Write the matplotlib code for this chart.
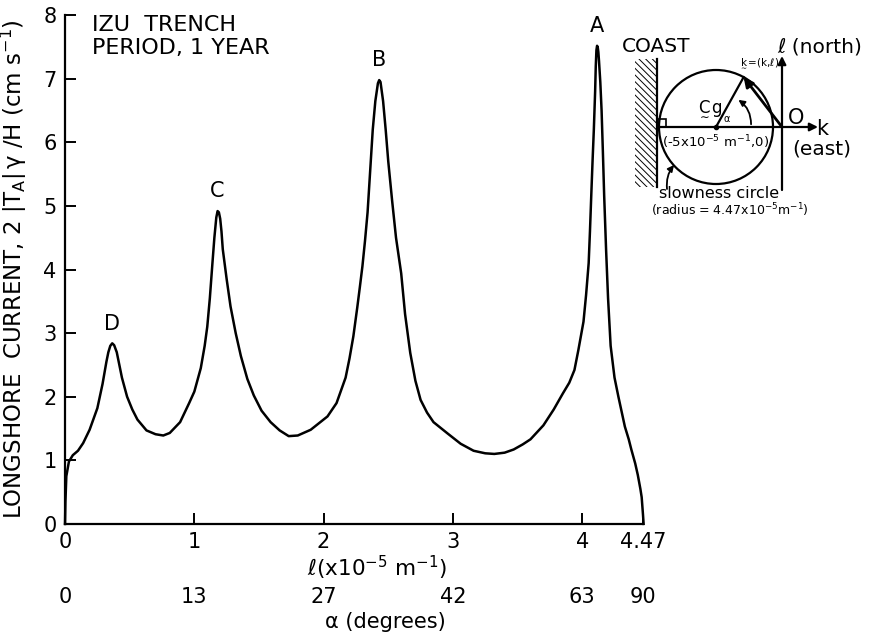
import numpy as np
import matplotlib.pyplot as plt
from matplotlib.patches import Rectangle, Circle, FancyArrowPatch

plt.rcParams['font.family'] = ['DejaVu Sans']
plt.rcParams['mathtext.fontset'] = 'custom'
plt.rcParams['mathtext.rm'] = 'DejaVu Sans'
plt.rcParams['mathtext.it'] = 'DejaVu Sans'
plt.rcParams['hatch.linewidth'] = 0.7

# longshore wavenumber l (x1e-5 m^-1) and current 2|T_A|gamma/H (cm/s)
ell = [0.0, 0.003, 0.01, 0.03, 0.06, 0.10, 0.14, 0.19, 0.25, 0.29, 0.32, 0.335,
       0.35, 0.365, 0.38, 0.40, 0.42, 0.44, 0.48, 0.52, 0.56, 0.63, 0.70, 0.76,
       0.81, 0.89, 0.96, 1.00, 1.05, 1.08, 1.10, 1.12, 1.14, 1.155, 1.17, 1.18,
       1.19, 1.20, 1.21, 1.22, 1.25, 1.28, 1.32, 1.36, 1.41, 1.46, 1.52, 1.59,
       1.66, 1.73, 1.80, 1.90, 2.03, 2.10, 2.17, 2.20, 2.23, 2.26, 2.28, 2.30,
       2.32, 2.34, 2.36, 2.38, 2.40, 2.42, 2.43, 2.44, 2.46, 2.48, 2.50, 2.53,
       2.56, 2.60, 2.63, 2.67, 2.71, 2.75, 2.80, 2.85, 2.96, 3.06, 3.16, 3.25,
       3.32, 3.40, 3.47, 3.54, 3.60, 3.70, 3.78, 3.85, 3.90, 3.94, 3.97, 4.01,
       4.03, 4.05, 4.06, 4.07, 4.08, 4.09, 4.10, 4.105, 4.11, 4.115, 4.12, 4.125,
       4.13, 4.14, 4.15, 4.16, 4.17, 4.185, 4.20, 4.22, 4.25, 4.28, 4.33, 4.36,
       4.38, 4.41, 4.43, 4.45, 4.46, 4.47, 4.475]
current = [0.0, 0.35, 0.75, 0.98, 1.08, 1.15, 1.27, 1.48, 1.82, 2.20, 2.55, 2.70,
           2.80, 2.84, 2.81, 2.70, 2.50, 2.30, 2.00, 1.80, 1.64, 1.47, 1.41, 1.39,
           1.43, 1.60, 1.90, 2.08, 2.45, 2.80, 3.10, 3.55, 4.10, 4.50, 4.82, 4.92,
           4.90, 4.80, 4.60, 4.32, 3.85, 3.42, 3.00, 2.64, 2.28, 2.02, 1.78, 1.60,
           1.47, 1.38, 1.39, 1.48, 1.69, 1.90, 2.30, 2.60, 2.95, 3.40, 3.72, 4.05,
           4.45, 4.90, 5.55, 6.20, 6.65, 6.93, 6.98, 6.95, 6.65, 6.20, 5.70, 5.08,
           4.50, 3.94, 3.30, 2.69, 2.25, 1.95, 1.75, 1.60, 1.42, 1.26, 1.15, 1.11,
           1.10, 1.12, 1.17, 1.25, 1.33, 1.55, 1.80, 2.05, 2.22, 2.42, 2.73, 3.18,
           3.60, 4.10, 4.60, 5.16, 5.70, 6.20, 6.80, 7.20, 7.45, 7.52, 7.50, 7.42,
           7.28, 6.95, 6.50, 5.85, 5.16, 4.30, 3.55, 2.80, 2.30, 2.00, 1.53, 1.33,
           1.17, 0.95, 0.77, 0.55, 0.42, 0.15, 0.0]

peak_names = ['D', 'C', 'B', 'A']
peak_ell = [0.365, 1.18, 2.43, 4.115]
peak_val = [2.84, 4.92, 6.98, 7.52]

ell_ticks = [0, 1, 2, 3, 4, 4.47]
ell_labels = ['0', '1', '2', '3', '4', '4.47']
alpha_labels = ['0', '13', '27', '42', '63', '90']
y_ticks = [0, 1, 2, 3, 4, 5, 6, 7, 8]

fig = plt.figure(figsize=(8.73, 6.35), dpi=100)
ax = fig.add_axes([0.0745, 0.175, 0.662, 0.801])

ax.plot(ell, current, color='black', lw=1.8, clip_on=False)
ax.set_xlim(0, 4.47)
ax.set_ylim(0, 8)

for s in ['top', 'right']:
    ax.spines[s].set_visible(False)
for s in ['left', 'bottom']:
    ax.spines[s].set_linewidth(1.6)

ax.set_xticks(ell_ticks)
ax.set_xticklabels(ell_labels)
ax.set_yticks(y_ticks)
ax.tick_params(direction='in', length=8, width=1.4, labelsize=15, pad=6)

ax.set_ylabel('LONGSHORE  CURRENT, 2 $|T_A|\\,\\gamma$ /H (cm s$^{-1}$)', fontsize=16.5)
ax.yaxis.set_label_coords(-0.062, 0.5)
ax.set_xlabel('ℓ(x10$^{-5}$ m$^{-1}$)', fontsize=15.5)
ax.xaxis.set_label_coords(0.54, -0.058)

# alpha scale under the l axis
sec = ax.secondary_xaxis(-0.118)
sec.spines['bottom'].set_visible(False)
sec.set_xticks(ell_ticks)
sec.set_xticklabels(alpha_labels)
sec.tick_params(length=0, labelsize=15, pad=2)
ax.text(0.554, -0.193, 'α (degrees)', fontsize=15, ha='center', va='center',
        transform=ax.transAxes)

for name, x, y in zip(peak_names, peak_ell, peak_val):
    ax.annotate(name, (x, y), xytext=(0, 7), textcoords='offset points',
                ha='center', va='bottom', fontsize=15)

ax.text(0.21, 7.84, 'IZU  TRENCH', fontsize=16, va='center')
ax.text(0.21, 7.48, 'PERIOD, 1 YEAR', fontsize=16, va='center')

# slowness circle sketch (figure pixel coordinates)
sk = fig.add_axes([0, 0, 1, 1])
sk.set_xlim(0, 873)
sk.set_ylim(635, 0)
sk.axis('off')
sk.patch.set_visible(False)

cx, cy, r = 716, 127, 57
ox = 782
coast_x = 657
ang = np.radians(61)
px, py = cx + r * np.cos(ang), cy - r * np.sin(ang)

sk.add_patch(Rectangle((635, 59), coast_x - 635, 128, facecolor='white',
                       edgecolor='black', hatch='\\\\\\\\\\', lw=0))
sk.plot([coast_x, coast_x], [59, 187], color='black', lw=1.6)
sk.add_patch(Circle((cx, cy), r, fill=False, color='black', lw=1.6))
sk.add_patch(Rectangle((coast_x + 1, cy - 8), 8, 8, fill=False, color='black', lw=1.2))

sk.annotate('', xy=(818, cy), xytext=(coast_x, cy),
            arrowprops=dict(arrowstyle='-|>', color='black', lw=1.6,
                            mutation_scale=12, shrinkA=0, shrinkB=0))
sk.annotate('', xy=(ox, 56), xytext=(ox, 190),
            arrowprops=dict(arrowstyle='-|>', color='black', lw=1.6,
                            mutation_scale=12, shrinkA=0, shrinkB=0))
sk.annotate('', xy=(px, py), xytext=(ox, cy),
            arrowprops=dict(arrowstyle='-|>', color='black', lw=2.0,
                            mutation_scale=14, shrinkA=0, shrinkB=0))
sk.plot([cx, px], [cy, py], color='black', lw=1.6)
sk.plot(cx, cy, 'o', color='black', ms=3)

ra = 35
a_end = np.radians(55)
sk.add_patch(FancyArrowPatch((cx + ra, cy), (cx + ra * np.cos(a_end), cy - ra * np.sin(a_end)),
                             connectionstyle='arc3,rad=0.3', arrowstyle='-|>',
                             mutation_scale=9, color='black', lw=1.3))

sk.annotate('', xy=(674, 165), xytext=(667, 189),
            arrowprops=dict(arrowstyle='-|>', color='black', lw=1.3,
                            mutation_scale=9, shrinkA=0, shrinkB=0,
                            connectionstyle='arc3,rad=-0.2'))

sk.text(622, 47, 'COAST', fontsize=14.5, va='center')
sk.text(777, 47, 'ℓ (north)', fontsize=14.5, va='center')
sk.text(739, 64, '$\\underset{\\sim}{k}$=(k,ℓ)', fontsize=7.5, va='center')
sk.text(697, 108, '$\\underset{\\sim}{\\mathrm{C}}$g', fontsize=12, va='center')
sk.text(724, 119, 'α', fontsize=7, va='center')
sk.text(788, 118, 'O', fontsize=15, va='center')
sk.text(816, 129, 'k', fontsize=15, va='center')
sk.text(792, 149, '(east)', fontsize=14.5, va='center')
sk.text(662, 142, '(-5x10$^{-5}$ m$^{-1}$,0)', fontsize=9.5, va='center')
sk.text(659, 194, 'slowness circle', fontsize=11.5, va='center')
sk.text(651, 210, '(radius = 4.47x10$^{-5}$m$^{-1}$)', fontsize=9, va='center')

fig.savefig('out.png', dpi=100)
